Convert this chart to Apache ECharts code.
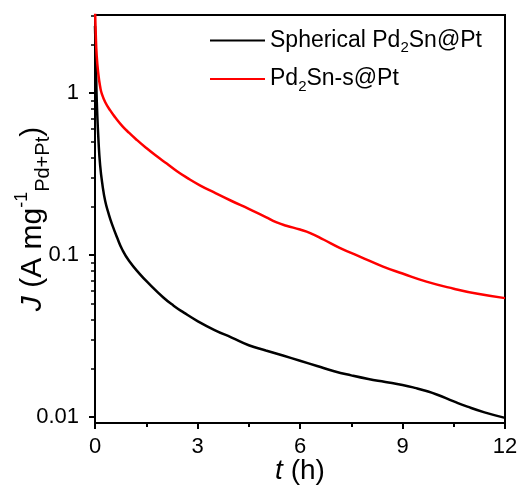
<!DOCTYPE html>
<html>
<head>
<meta charset="utf-8">
<script src="https://cdn.jsdelivr.net/npm/echarts@6/dist/echarts.min.js"></script>
<style>
html,body{margin:0;padding:0;background:#fff;}
#c{width:520px;height:490px;}
</style>
</head>
<body>
<div id="c"></div>
<script>
// ---- data (t in hours, J in A mg^-1) ----
var seriesNames = ['Spherical Pd2Sn@Pt', 'Pd2Sn-s@Pt'];
var tBlack = [0, 0.02, 0.04, 0.06, 0.1, 0.15, 0.22, 0.3, 0.4, 0.5, 0.65, 0.8, 1.0, 1.3, 1.6, 2.0, 2.3, 2.6, 3.0, 3.5, 4.0, 4.5, 5.0, 5.5, 6.0, 6.5, 7.0, 7.5, 8.0, 8.5, 9.0, 9.4, 9.7, 10.0, 10.5, 10.9, 11.4, 12];
var jBlack = [2.6, 1.8, 1.1, 0.8, 0.52, 0.36, 0.27, 0.215, 0.18, 0.155, 0.128, 0.108, 0.092, 0.077, 0.066, 0.0548, 0.0488, 0.0442, 0.0392, 0.0345, 0.031, 0.0278, 0.0258, 0.024, 0.0223, 0.0207, 0.0192, 0.0181, 0.0172, 0.0165, 0.0158, 0.0151, 0.0145, 0.0138, 0.0125, 0.0116, 0.0107, 0.0099];
var tRed = [0, 0.02, 0.05, 0.1, 0.15, 0.2, 0.3, 0.45, 0.6, 0.8, 1.0, 1.2, 1.5, 1.8, 2.1, 2.4, 2.7, 3.07, 3.5, 4.0, 4.5, 5.0, 5.3, 5.6, 6.0, 6.3, 6.7, 7.16, 7.75, 8.43, 9.0, 9.7, 10.5, 11.2, 12];
var jRed = [3.5, 2.4, 1.7, 1.3, 1.1, 0.99, 0.88, 0.78, 0.705, 0.627, 0.569, 0.52, 0.459, 0.409, 0.368, 0.33, 0.3, 0.27, 0.243, 0.216, 0.193, 0.172, 0.16, 0.152, 0.144, 0.137, 0.1245, 0.111, 0.098, 0.085, 0.077, 0.0687, 0.0621, 0.0577, 0.0543];
var yMajorTicks = [0.01, 0.1, 1];
var yMinorTicks = [0.02, 0.03, 0.04, 0.05, 0.06, 0.07, 0.08, 0.09, 0.2, 0.3, 0.4, 0.5, 0.6, 0.7, 0.8, 0.9, 2, 3];
var xTicks = [0, 3, 6, 9, 12];

function pairs(t, v) { return t.map(function (x, i) { return [x, v[i]]; }); }

var FONT = "'Liberation Sans', Arial, sans-serif";
var chart = echarts.init(document.getElementById('c'), null, {renderer: 'canvas'});
var legendRich = {
  a: {fontSize: 23, fontFamily: FONT, color: '#000', lineHeight: 30},
  s: {fontSize: 15, fontFamily: FONT, color: '#000', verticalAlign: 'bottom', lineHeight: 15}
};
var option = {
  animation: false,
  backgroundColor: '#fff',
  grid: {left: 95, right: 15, top: 15, bottom: 67, show: true, borderColor: '#000', borderWidth: 2,
    backgroundColor: 'transparent', containLabel: false, outerBoundsMode: 'none'},
  legend: {
    orient: 'vertical', left: 205, top: 24, itemWidth: 55, itemHeight: 2, itemGap: 12,
    icon: 'rect',
    data: seriesNames,
    formatter: function (name) {
      if (name === seriesNames[0]) return '{a|Spherical Pd}{s|2}{a|Sn@Pt}';
      return '{a|Pd}{s|2}{a|Sn-s@Pt}';
    },
    textStyle: {rich: legendRich}
  },
  xAxis: {
    type: 'value', min: 0, max: 12, interval: 3,
    name: '{i|t}{n| (h)}', nameLocation: 'middle', nameGap: 34, nameMoveOverlap: false,
    nameTextStyle: {rich: {
      i: {fontSize: 28, fontStyle: 'italic', fontFamily: FONT, color: '#000'},
      n: {fontSize: 28, fontFamily: FONT, color: '#000'}
    }},
    axisLine: {lineStyle: {color: '#000', width: 2}},
    axisTick: {show: true, length: 6, lineStyle: {color: '#000', width: 2}},
    minorTick: {show: true, splitNumber: 2, length: 4, lineStyle: {color: '#000', width: 2}},
    axisLabel: {fontSize: 22, fontFamily: FONT, color: '#000', margin: 13, customValues: xTicks},
    splitLine: {show: false}
  },
  yAxis: [{
    type: 'log', logBase: 10, min: 0.0092, max: 3.04,
    position: 'left',
    name: '{i|J}{n| (A mg}{sup|-1}{sub|Pd+Pt}{n|)}', nameLocation: 'middle', nameGap: 42, nameRotate: 90,
    nameMoveOverlap: false,
    nameTextStyle: {rich: {
      i: {fontSize: 30, fontStyle: 'italic', fontFamily: FONT, color: '#000', lineHeight: 40},
      n: {fontSize: 30, fontFamily: FONT, color: '#000', lineHeight: 40},
      sup: {fontSize: 18, fontFamily: FONT, color: '#000', verticalAlign: 'top', lineHeight: 18},
      sub: {fontSize: 20, fontFamily: FONT, color: '#000', verticalAlign: 'bottom', lineHeight: 20}
    }},
    axisLine: {show: true, lineStyle: {color: '#000', width: 2}},
    axisTick: {show: true, length: 6, lineStyle: {color: '#000', width: 2}, customValues: yMajorTicks},
    axisLabel: {fontSize: 22, fontFamily: FONT, color: '#000', margin: 16, customValues: yMajorTicks,
      formatter: function (v) { return String(+v.toPrecision(3)); }},
    splitLine: {show: false}
  }, {
    type: 'log', logBase: 10, min: 0.0092, max: 3.04,
    position: 'left', offset: 0,
    axisLine: {show: false},
    axisTick: {show: true, length: 4, lineStyle: {color: '#000', width: 1.5}, customValues: yMinorTicks},
    axisLabel: {show: false},
    splitLine: {show: false}
  }],
  series: [{
    name: seriesNames[0], type: 'line', data: pairs(tBlack, jBlack), yAxisIndex: 0,
    symbol: 'none', smooth: 0.5, clip: true,
    lineStyle: {color: '#000', width: 2.5}, itemStyle: {color: '#000'}
  }, {
    name: seriesNames[1], type: 'line', data: pairs(tRed, jRed), yAxisIndex: 0,
    symbol: 'none', smooth: 0.5, clip: true,
    lineStyle: {color: '#ff0000', width: 2.5}, itemStyle: {color: '#ff0000'}
  }]
};
chart.setOption(option);
</script>
</body>
</html>
